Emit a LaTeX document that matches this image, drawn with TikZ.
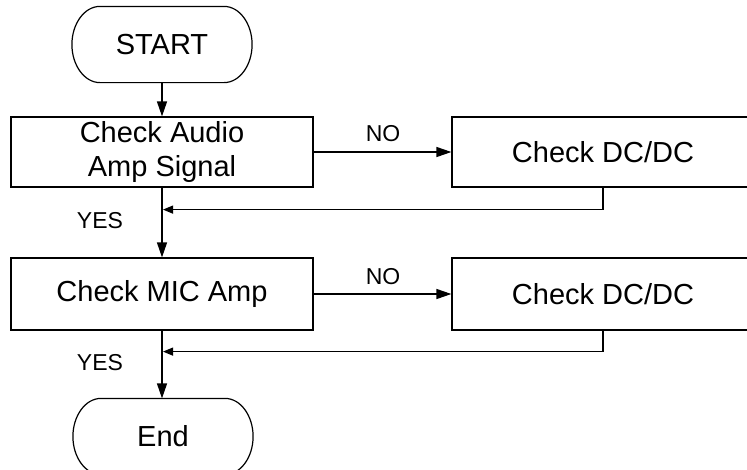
\documentclass[tikz,border=0pt]{standalone}
\usepackage{fontspec}
\setmainfont{Liberation Sans}
\usetikzlibrary{arrows.meta,calc}
\newcommand{\termshape}[1]{%
  \draw ($(#1.north west)+(28,0)$) -- ($(#1.north east)+(-28,0)$)
    .. controls +(15.5,0) and +(0,-20.7) .. (#1.east)
    .. controls +(0,20.7) and +(15.5,0) .. ($(#1.south east)+(-28,0)$)
    -- ($(#1.south west)+(28,0)$)
    .. controls +(-15.5,0) and +(0,20.7) .. (#1.west)
    .. controls +(0,-20.7) and +(-15.5,0) .. ($(#1.north west)+(28,0)$) -- cycle;}
\begin{document}
\begin{tikzpicture}[x=1pt,y=-1pt,
  line width=1.2pt,
  box/.style={draw,rectangle,inner sep=0pt,font=\fontsize{29}{34}\selectfont,align=center},
  term/.style={inner sep=0pt,font=\fontsize{29}{34}\selectfont,minimum width=179pt,minimum height=75pt},
  lbl/.style={font=\fontsize{23}{26}\selectfont,inner sep=0pt},
  flow/.style={-{Triangle[length=15pt,width=10pt]}},
  back/.style={-{Triangle[length=10pt,width=8pt]}}
]
\useasboundingbox (0,0) rectangle (747,469);
\fill[white] (0,0) rectangle (747,469);
\clip (0,0) rectangle (747,469);

% terminals
\node[term] (start) at (162,44.5) {START};
\termshape{start}
\node[term] (end) at (163,436.5) {End};
\termshape{end}

% process boxes
\node[box,minimum width=302pt,minimum height=70pt] (box1) at (162,152) {Check Audio\\Amp Signal};
\node[box,minimum width=302pt,minimum height=70pt] (box2) at (603,152) {Check DC/DC};
\node[box,minimum width=302pt,minimum height=72pt] (box3) at (162,294) {Check MIC Amp};
\node[box,minimum width=302pt,minimum height=72pt] (box4) at (603,294) {Check DC/DC};

% labels
\node[lbl] (no1) at (383,134) {NO};
\node[lbl] (no2) at (383,276.5) {NO};
\node[lbl] (yes1) at (100,221) {YES};
\node[lbl] (yes2) at (100,363) {YES};

% connectors
\draw[flow] (start.south) -- (box1.north);
\draw[flow] (box1.east) -- (box2.west);
\draw[back] (box2.south) |- ($(box1.south)+(1,22)$);
\draw[flow] (box1.south) -- (box3.north);
\draw[flow] (box3.east) -- (box4.west);
\draw[back] (box4.south) |- ($(box3.south)+(1,21)$);
\draw[flow] (box3.south) -- (box3.south |- end.north);
\end{tikzpicture}
\end{document}
